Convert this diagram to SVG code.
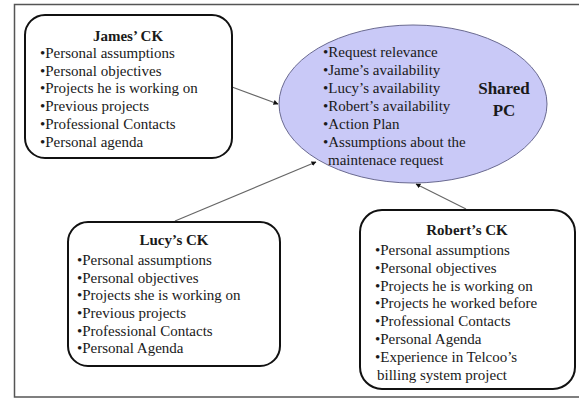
<svg xmlns="http://www.w3.org/2000/svg" width="579" height="401" viewBox="0 0 579 401">
<style>
.box{fill:#fff;stroke:#111;stroke-width:2}
.t{font-family:"Liberation Serif","Times New Roman",serif;font-size:15px;fill:#1a1a1a}
.title{font-family:"Liberation Serif","Times New Roman",serif;font-size:15px;font-weight:bold;fill:#1a1a1a}
.big{font-family:"Liberation Serif","Times New Roman",serif;font-size:17px;font-weight:bold;fill:#1a1a1a}
.conn{stroke:#666;stroke-width:1.2;fill:none}
</style>
<defs>
<marker id="ah" viewBox="0 0 10 10" refX="9" refY="5" markerWidth="5" markerHeight="5" orient="auto" markerUnits="userSpaceOnUse">
<path d="M0,0 L10,5 L0,10 z" fill="#111"/>
</marker>
</defs>
<rect width="579" height="401" fill="#fff"/>
<path d="M579,4.5 H14.5 V397 H579" fill="none" stroke="#555" stroke-width="1.5"/>
<g id="connectors">
<line class="conn" x1="232" y1="87" x2="278" y2="104" marker-end="url(#ah)"/>
<line class="conn" x1="175" y1="221" x2="316" y2="162" marker-end="url(#ah)"/>
<line class="conn" x1="466" y1="209" x2="416" y2="184" marker-end="url(#ah)"/>
</g>
<g id="shared-pc">
<ellipse cx="413" cy="104" rx="134" ry="79" fill="#c9c9f7" stroke="#6a6a90" stroke-width="1"/>
<text class="t" x="323" y="57">•Request relevance</text>
<text class="t" x="323" y="75">•Jame’s availability</text>
<text class="t" x="323" y="93">•Lucy’s availability</text>
<text class="t" x="323" y="111">•Robert’s availability</text>
<text class="t" x="323" y="129">•Action Plan</text>
<text class="t" x="323" y="147">•Assumptions about the</text>
<text class="t" x="328" y="165">maintenace request</text>
<text class="big" x="504" y="94" text-anchor="middle">Shared</text>
<text class="big" x="504" y="116" text-anchor="middle">PC</text>
</g>
<g id="james">
<rect class="box" x="25" y="15" width="207" height="143" rx="20"/>
<text class="title" x="128" y="41" text-anchor="middle">James’ CK</text>
<text class="t" x="40" y="58">•Personal assumptions</text>
<text class="t" x="40" y="76">•Personal objectives</text>
<text class="t" x="40" y="93">•Projects he is working on</text>
<text class="t" x="40" y="111">•Previous projects</text>
<text class="t" x="40" y="129">•Professional Contacts</text>
<text class="t" x="40" y="147">•Personal agenda</text>
</g>
<g id="lucy">
<rect class="box" x="68" y="222" width="212" height="144" rx="20"/>
<text class="title" x="174" y="245" text-anchor="middle">Lucy’s CK</text>
<text class="t" x="77" y="265">•Personal assumptions</text>
<text class="t" x="77" y="283">•Personal objectives</text>
<text class="t" x="77" y="300">•Projects she is working on</text>
<text class="t" x="77" y="318">•Previous projects</text>
<text class="t" x="77" y="336">•Professional Contacts</text>
<text class="t" x="77" y="353">•Personal Agenda</text>
</g>
<g id="robert">
<rect class="box" x="360" y="210" width="215" height="179" rx="22"/>
<text class="title" x="467" y="235" text-anchor="middle">Robert’s CK</text>
<text class="t" x="375" y="255">•Personal assumptions</text>
<text class="t" x="375" y="273">•Personal objectives</text>
<text class="t" x="375" y="291">•Projects he is working on</text>
<text class="t" x="375" y="308">•Projects he worked before</text>
<text class="t" x="375" y="326">•Professional Contacts</text>
<text class="t" x="375" y="344">•Personal Agenda</text>
<text class="t" x="375" y="362">•Experience in Telcoo’s</text>
<text class="t" x="377" y="380">billing system project</text>
</g>
</svg>
